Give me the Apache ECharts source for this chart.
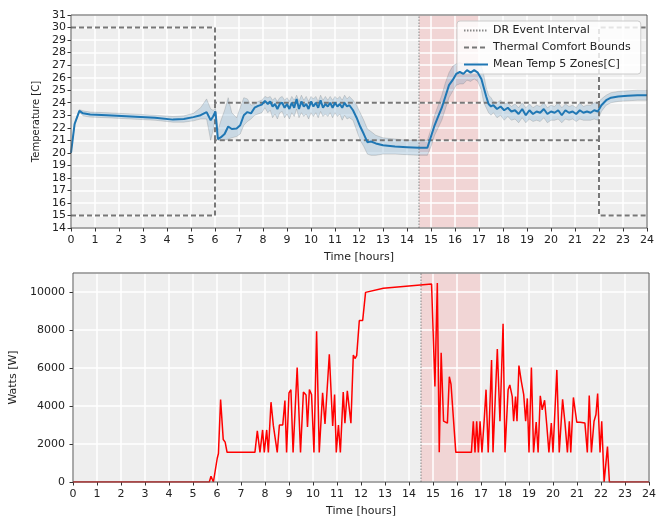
<!DOCTYPE html>
<html>
<head>
<meta charset="utf-8">
<script src="https://cdn.jsdelivr.net/npm/echarts@6/dist/echarts.min.js"></script>
<style>
  html, body { margin: 0; background: #fff; }
  #chart { width: 672px; height: 518px; }
</style>
</head>
<body>
<div id="chart"></div>
<script>
// DR event window (hours)
const drStart = 14.5;
const drEnd = 17;

// thermal comfort bounds (step shape)
const boundT = [0, 6, 6, 22, 22, 24];
const boundHigh = [30, 30, 24, 24, 30, 30];
const boundLow = [15, 15, 21, 21, 15, 15];

// mean zone temperature and min/max band
const tempT = [
  0, 0.15, 0.35, 0.5, 0.8, 1.5, 2.5, 3.5, 4.25, 4.7, 5.1, 5.4, 5.65, 5.82, 5.92, 6.02, 6.12, 6.25, 6.4, 6.55, 6.7, 6.9, 7.05, 7.2, 7.35, 7.5, 7.65, 7.8, 7.95, 8.08,
  8.2, 8.3, 8.4, 8.5, 8.6, 8.7, 8.8, 8.9, 9.0, 9.1, 9.2, 9.3, 9.4, 9.5, 9.6, 9.7, 9.8, 9.9, 10.0, 10.1, 10.2, 10.3, 10.4, 10.5, 10.6, 10.7, 10.8, 10.9, 11.0, 11.1, 11.2, 11.3, 11.4, 11.5, 11.6,
  11.75, 11.9, 12.05, 12.2, 12.35, 12.5, 12.7, 13.0, 13.5, 14.0, 14.5, 14.85, 15.0, 15.15, 15.3, 15.45, 15.6, 15.75, 15.9, 16.05, 16.2, 16.35, 16.5, 16.65, 16.8, 16.95, 17.1, 17.2, 17.3, 17.4, 17.5,
  17.6, 17.75, 17.9, 18.05, 18.2, 18.35, 18.5, 18.65, 18.8, 18.95, 19.1, 19.25, 19.4, 19.55, 19.7, 19.85, 20.0, 20.15, 20.3, 20.45, 20.6, 20.75, 20.9, 21.05, 21.2, 21.35, 21.5, 21.65, 21.8, 21.95,
  22.1, 22.3, 22.5, 22.8, 23.2, 23.6, 24
];
const tempMean = [
  20.0, 22.3, 23.35, 23.15, 23.05, 23.0, 22.9, 22.8, 22.65, 22.7, 22.85, 23.0, 23.25, 22.6, 22.9, 23.3, 21.1, 21.25, 21.5, 22.1, 21.9, 21.95, 22.2, 23.0, 23.25, 23.15, 23.6, 23.75, 23.85, 24.15,
  23.9, 24.1, 23.7, 23.9, 23.5, 23.9, 24.0, 23.6, 23.9, 23.5, 24.0, 23.6, 24.3, 23.5, 24.1, 23.7, 23.9, 23.5, 24.1, 23.7, 24.0, 23.6, 24.2, 23.6, 23.9, 23.7, 24.0, 23.6, 24.0, 23.7, 23.9, 23.6, 24.0, 23.7, 23.8,
  23.4, 22.8, 22.1, 21.5, 20.85, 20.9, 20.75, 20.6, 20.5, 20.45, 20.4, 20.4, 21.3, 22.2, 22.9, 23.6, 24.5, 25.4, 25.8, 26.3, 26.45, 26.3, 26.6, 26.4, 26.6, 26.4, 25.9, 25.2, 24.5, 23.9, 23.7,
  23.8, 23.5, 23.7, 23.4, 23.6, 23.3, 23.4, 23.1, 23.5, 23.0, 23.4, 23.1, 23.3, 23.2, 23.5, 23.1, 23.3, 23.2, 23.4, 23.0, 23.4, 23.2, 23.3, 23.1, 23.4, 23.2, 23.3, 23.2, 23.4, 23.3,
  23.8, 24.2, 24.4, 24.5, 24.55, 24.6, 24.6
];
const tempHigh = [
  20.0, 22.4, 23.45, 23.35, 23.25, 23.2, 23.1, 23.0, 22.9, 22.95, 23.15, 23.6, 24.3, 23.5, 23.4, 23.5, 21.8, 22.6, 23.4, 24.4, 23.2, 22.8, 23.6, 24.4, 24.3, 23.8, 23.9, 24.1, 24.2, 24.5,
  24.4, 24.5, 24.2, 24.4, 24.1, 24.4, 24.5, 24.2, 24.4, 24.1, 24.5, 24.2, 24.6, 24.1, 24.6, 24.2, 24.5, 24.1, 24.5, 24.3, 24.5, 24.1, 24.6, 24.2, 24.5, 24.2, 24.5, 24.2, 24.5, 24.3, 24.5, 24.2, 24.6, 24.3, 24.5,
  24.2, 23.8, 23.2, 22.6, 21.9, 21.7, 21.4, 21.2, 21.1, 21.0, 21.0, 21.0, 21.9, 23.0, 23.8, 24.6, 25.6, 26.4, 26.9, 27.1, 27.2, 27.1, 27.2, 27.1, 27.2, 27.2, 26.9, 26.2, 25.2, 24.6, 24.4,
  24.1, 24.0, 24.2, 23.9, 24.0, 23.7, 23.9, 23.6, 24.0, 23.6, 23.9, 23.6, 23.8, 23.7, 24.0, 23.6, 23.8, 23.7, 24.0, 23.6, 23.9, 23.7, 23.8, 23.6, 24.0, 23.7, 23.8, 23.8, 24.0, 24.0,
  24.3, 24.6, 24.8, 24.9, 24.95, 25.0, 25.0
];
const tempLow = [
  20.0, 22.2, 23.25, 22.95, 22.85, 22.8, 22.7, 22.6, 22.45, 22.45, 22.55, 22.7, 22.7, 21.0, 21.8, 22.8, 21.0, 21.0, 21.0, 21.1, 21.2, 21.3, 21.5, 22.2, 22.5, 22.7, 23.0, 23.1, 23.2, 23.6,
  23.2, 23.4, 22.8, 23.1, 22.7, 23.2, 23.3, 22.8, 23.1, 22.7, 23.2, 22.9, 23.5, 22.8, 23.2, 22.9, 23.1, 22.7, 23.2, 22.9, 23.2, 22.8, 23.3, 22.9, 23.1, 22.9, 23.2, 22.8, 23.2, 22.9, 23.1, 22.6, 23.0, 22.7, 22.8,
  22.6, 21.8, 21.0, 20.5, 19.9, 19.8, 19.8, 19.9, 19.9, 19.85, 19.8, 19.8, 20.5, 21.4, 22.0, 22.6, 23.5, 24.4, 24.9, 25.4, 25.5, 25.5, 25.8, 25.7, 25.9, 25.7, 25.0, 24.0, 23.6, 23.2, 23.0,
  23.2, 22.8, 23.0, 22.6, 22.9, 22.6, 22.7, 22.4, 22.8, 22.4, 22.7, 22.5, 22.6, 22.5, 22.8, 22.4, 22.6, 22.6, 22.7, 22.4, 22.7, 22.6, 22.7, 22.5, 22.7, 22.6, 22.6, 22.6, 22.7, 22.6,
  23.3, 23.8, 24.0, 24.1, 24.15, 24.2, 24.2
];

// HVAC power
const powerT = [
  0, 5.68, 5.75, 5.85, 5.92, 6.01, 6.06, 6.15, 6.26, 6.34, 6.42, 7.58, 7.68, 7.79, 7.9, 7.97, 8.07, 8.14, 8.25, 8.35,
  8.43, 8.51, 8.6, 8.74, 8.83, 8.9, 9.0, 9.08, 9.17, 9.24, 9.34, 9.48, 9.6, 9.71, 9.77, 9.85, 9.94, 10.04, 10.15, 10.26,
  10.4, 10.5, 10.57, 10.68, 10.82, 10.9, 10.97, 11.06, 11.14, 11.26, 11.33, 11.43, 11.51, 11.58, 11.68, 11.75, 11.82, 11.93, 11.99, 12.07,
  12.19, 12.93, 14.94, 15.08, 15.18, 15.26, 15.34, 15.44, 15.5, 15.6, 15.68, 15.75, 15.95, 16.6, 16.68, 16.75, 16.82, 16.89, 16.96, 17.04,
  17.13, 17.21, 17.3, 17.44, 17.5, 17.68, 17.79, 17.92, 18.0, 18.13, 18.2, 18.3, 18.36, 18.44, 18.5, 18.58, 18.68, 18.78, 18.86, 18.93,
  19.0, 19.1, 19.19, 19.3, 19.38, 19.47, 19.55, 19.65, 19.74, 19.83, 19.93, 20.0, 20.16, 20.26, 20.4, 20.5, 20.6, 20.68, 20.74, 20.85,
  20.99, 21.13, 21.33, 21.43, 21.51, 21.6, 21.71, 21.79, 21.86, 21.96, 22.03, 22.13, 22.27, 22.35, 24
];
const powerW = [
  0, 0, 300, 0, 0, 1250, 1500, 4340, 2240, 2100, 1560, 1560, 2690, 1560, 2740, 1560, 2740, 1560, 4200, 2950,
  2950, 1560, 3000, 3000, 4290, 1560, 4690, 4860, 1560, 1560, 6020, 1560, 4740, 4580, 2900, 4860, 4600, 1560, 7930, 1560,
  4690, 3050, 3000, 6720, 2950, 4600, 1560, 3000, 1560, 4740, 3100, 4800, 4860, 3100, 6680, 6500, 6650, 8500, 8400, 8500,
  9980, 10200, 10420, 5030, 10470, 1560, 6800, 3200, 3200, 3100, 5540, 5150, 1560, 1560, 3200, 1560, 3200, 1560, 3200, 1560,
  3200, 4860, 1560, 6420, 1560, 7000, 3200, 8330, 1560, 4860, 5110, 4510, 3200, 4500, 3200, 6130, 5300, 4600, 3200, 4400,
  1560, 6020, 1560, 3150, 1560, 4540, 3800, 4300, 3000, 1560, 3100, 1560, 5900, 1560, 4350, 3100, 1560, 3200, 1560, 4450,
  3150, 3150, 3100, 1560, 4550, 1560, 3200, 3550, 4650, 1560, 3200, 0, 1860, 0, 0
];

const zip = (xs, ys) => xs.map((x, i) => [x, ys[i]]);
const font = "DejaVu Sans";
const txt = { color: "#222", fontSize: 11, fontFamily: font };
const boundStyle = { color: "#777", width: 2, type: [5, 3] };

const bgSeries = (gi, yMin) => ({
  type: "line",
  xAxisIndex: gi,
  yAxisIndex: gi,
  data: [[0, yMin]],
  symbol: "none",
  lineStyle: { opacity: 0 },
  silent: true,
  z: 1,
  markArea: {
    silent: true,
    data: [
      [{ xAxis: 0, itemStyle: { color: "#eeeeee" } }, { xAxis: 24 }],
      [{ xAxis: drStart, itemStyle: { color: "rgba(255,100,100,0.18)" } }, { xAxis: drEnd }],
    ],
  },
});

const drLine = (gi, yMin, yMax, name) => ({
  name: name,
  type: "line",
  xAxisIndex: gi,
  yAxisIndex: gi,
  data: [[drStart, yMin], [drStart, yMax]],
  symbol: "none",
  lineStyle: { color: "#888", width: 1, type: [1.5, 1.5] },
  itemStyle: { color: "#888" },
  z: 3,
});

const boundSeries = (pts) => ({
  name: "Thermal Comfort Bounds",
  type: "line",
  data: pts,
  symbol: "none",
  lineStyle: boundStyle,
  itemStyle: { color: "#777" },
  z: 3,
});

const xAxisOf = (gi) => ({
  type: "value",
  gridIndex: gi,
  min: 0,
  max: 24,
  interval: 1,
  name: "Time [hours]",
  nameLocation: "middle",
  nameGap: 24,
  nameTextStyle: txt,
  axisLine: { show: false },
  axisTick: { show: true, length: 3.5, lineStyle: { color: "#333" } },
  axisLabel: Object.assign({ margin: 7 }, txt),
  splitLine: { show: true, lineStyle: { color: "#fff", width: 1.5 } },
  z: 2,
});

const option = {
  animation: false,
  backgroundColor: "#fff",
  grid: [
    { left: 71, top: 15, width: 576, height: 213, show: true, z: 5, backgroundColor: "rgba(0,0,0,0)", borderColor: "#555", borderWidth: 1 },
    { left: 73, top: 273, width: 576, height: 212, show: true, z: 5, backgroundColor: "rgba(0,0,0,0)", borderColor: "#555", borderWidth: 1 },
  ],
  legend: {
    data: ["DR Event Interval", "Thermal Comfort Bounds", "Mean Temp 5 Zones[C]"],
    orient: "vertical",
    left: 457,
    top: 21,
    itemWidth: 24,
    itemHeight: 10,
    itemGap: 6,
    padding: [4, 10, 4, 6],
    backgroundColor: "rgba(255,255,255,0.8)",
    borderColor: "#ccc",
    borderWidth: 1,
    borderRadius: 3,
    itemStyle: { opacity: 0 },
    textStyle: txt,
  },
  xAxis: [xAxisOf(0), xAxisOf(1)],
  yAxis: [
    {
      type: "value",
      gridIndex: 0,
      min: 14,
      max: 31,
      interval: 1,
      name: "Temperature [C]",
      nameLocation: "middle",
      nameGap: 28,
      nameTextStyle: { color: "#222", fontSize: 10, fontFamily: font },
      axisLine: { show: false },
      axisTick: { show: true, length: 3.5, lineStyle: { color: "#333" } },
      axisLabel: Object.assign({ margin: 5 }, txt),
      splitLine: { show: true, lineStyle: { color: "#fff", width: 1.5 } },
      z: 2,
    },
    {
      type: "value",
      gridIndex: 1,
      min: 0,
      max: 11000,
      interval: 2000,
      name: "Watts [W]",
      nameLocation: "middle",
      nameGap: 45,
      nameTextStyle: txt,
      axisLine: { show: false },
      axisTick: { show: true, length: 3.5, lineStyle: { color: "#333" } },
      axisLabel: Object.assign({ margin: 8, showMaxLabel: false, formatter: (v) => String(v) }, txt),
      splitLine: { show: true, lineStyle: { color: "#fff", width: 1.5 } },
      z: 2,
    },
  ],
  series: [
    bgSeries(0, 14),
    bgSeries(1, 0),
    drLine(0, 14, 31, "DR Event Interval"),
    drLine(1, 0, 11000, "DR Event Interval 2"),
    boundSeries(zip(boundT, boundHigh)),
    boundSeries(zip(boundT, boundLow)),
    // vertical bound pieces between the low and high steps
    boundSeries([[boundT[1], boundLow[2]], [boundT[1], boundHigh[2]]]),
    boundSeries([[boundT[3], boundLow[3]], [boundT[3], boundHigh[3]]]),
    {
      type: "custom",
      xAxisIndex: 0,
      yAxisIndex: 0,
      silent: true,
      z: 3,
      data: [[0, 20]],
      renderItem: (params, api) => {
        const pts = [];
        for (let i = 0; i < tempT.length; i++) pts.push(api.coord([tempT[i], tempHigh[i]]));
        for (let i = tempT.length - 1; i >= 0; i--) pts.push(api.coord([tempT[i], tempLow[i]]));
        return {
          type: "polygon",
          shape: { points: pts },
          style: { fill: "rgba(31,119,180,0.18)", stroke: "rgba(90,90,90,0.35)", lineWidth: 0.6 },
        };
      },
    },
    {
      name: "Mean Temp 5 Zones[C]",
      type: "line",
      data: zip(tempT, tempMean),
      symbol: "none",
      lineStyle: { color: "#1f77b4", width: 2 },
      itemStyle: { color: "#1f77b4" },
      z: 4,
    },
    {
      name: "Power",
      type: "line",
      xAxisIndex: 1,
      yAxisIndex: 1,
      data: zip(powerT, powerW),
      symbol: "none",
      lineStyle: { color: "#ff0000", width: 1.5 },
      z: 4,
    },
  ],
};

const chart = echarts.init(document.getElementById("chart"));
chart.setOption(option);
</script>
</body>
</html>
